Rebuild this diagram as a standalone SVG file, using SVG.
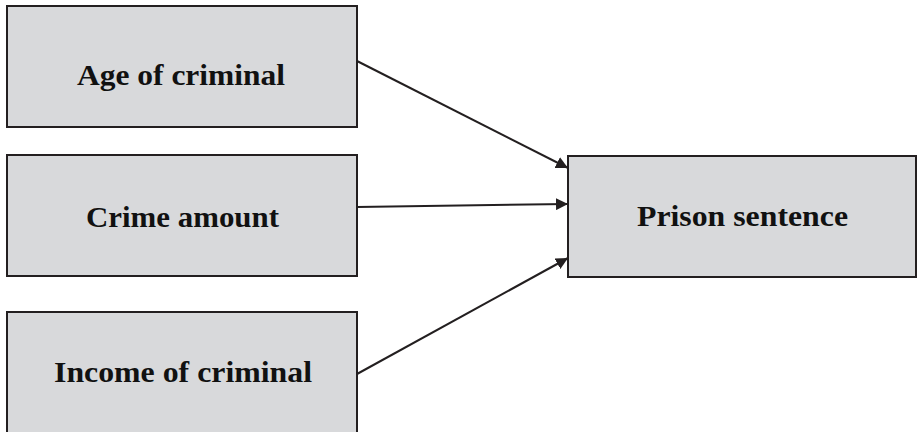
<svg xmlns="http://www.w3.org/2000/svg" width="919" height="432" viewBox="0 0 919 432">
<style>
.box{fill:#d8d9db;stroke:#231f20;stroke-width:2}
.lbl{font-family:"Liberation Serif",serif;font-weight:bold;font-size:29px;fill:#111}
.conn{stroke:#231f20;stroke-width:2;fill:none;marker-end:url(#ah)}
</style>
<defs>
<marker id="ah" viewBox="0 0 10 10" refX="10" refY="5" markerWidth="6" markerHeight="6" orient="auto" markerUnits="strokeWidth">
<path d="M0,0 L10,5 L0,10 z" fill="#231f20"/>
</marker>
</defs>
<rect width="919" height="432" fill="#fff"/>
<g id="age">
<rect class="box" x="7" y="6" width="350" height="121"/>
<text class="lbl" x="77" y="85" textLength="208" lengthAdjust="spacingAndGlyphs">Age of criminal</text>
</g>
<g id="crime">
<rect class="box" x="7" y="155" width="350" height="121"/>
<text class="lbl" x="86" y="227" textLength="193" lengthAdjust="spacingAndGlyphs">Crime amount</text>
</g>
<g id="income">
<rect class="box" x="7" y="312" width="350" height="125"/>
<text class="lbl" x="54" y="382" textLength="258" lengthAdjust="spacingAndGlyphs">Income of criminal</text>
</g>
<g id="prison">
<rect class="box" x="568" y="156" width="348" height="121"/>
<text class="lbl" x="637" y="226" textLength="211" lengthAdjust="spacingAndGlyphs">Prison sentence</text>
</g>
<g id="connectors">
<line class="conn" x1="357" y1="61" x2="568" y2="168"/>
<line class="conn" x1="357" y1="207" x2="568" y2="204"/>
<line class="conn" x1="357" y1="374" x2="568" y2="258"/>
</g>
</svg>
